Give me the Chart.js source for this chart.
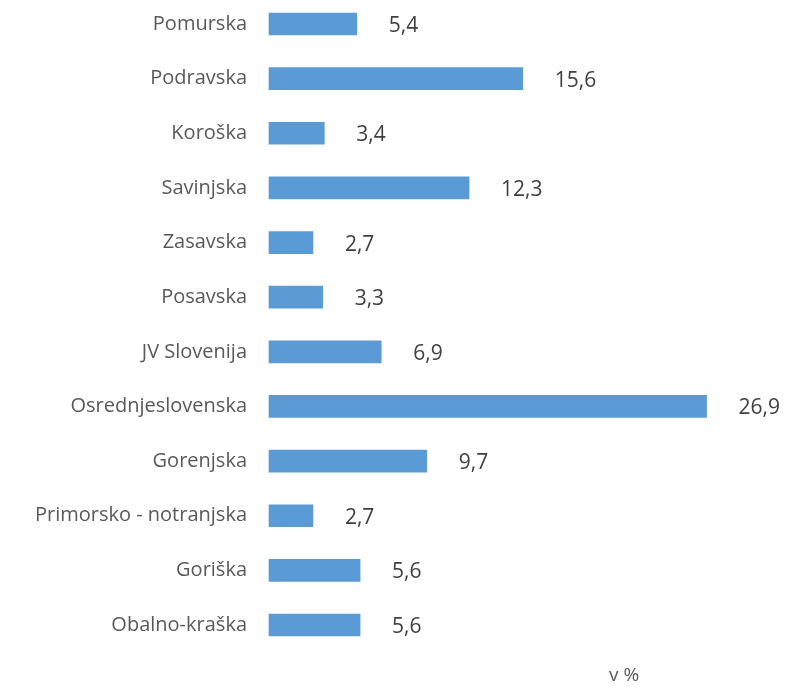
<!DOCTYPE html>
<html>
<head>
<meta charset="utf-8">
<script src="https://cdn.jsdelivr.net/npm/chart.js@4"></script>
<style>
    html, body { margin: 0; padding: 0; background: #ffffff; }
    #wrap { width: 799px; height: 687px; position: relative; }
</style>
</head>
<body>
<div id="wrap"><canvas id="regije"></canvas></div>
<script>
// regije in deleži (v %)
const regije = [
    'Pomurska', 'Podravska', 'Koroška', 'Savinjska', 'Zasavska', 'Posavska',
    'JV Slovenija', 'Osrednjeslovenska', 'Gorenjska', 'Primorsko - notranjska',
    'Goriška', 'Obalno-kraška'
];
const delezi = [5.4, 15.6, 3.4, 12.3, 2.7, 3.3, 6.9, 26.9, 9.7, 2.7, 5.6, 5.6];
const enota = 'v %';

const FONT = '"Open Sans", "Liberation Sans", sans-serif';

// vrednosti desno od stolpcev + oznaka enote
const oznakePlugin = {
    id: 'oznake',
    afterDatasetsDraw(chart) {
        const ctx = chart.ctx;
        const meta = chart.getDatasetMeta(0);
        ctx.save();
        ctx.font = '21px ' + FONT;
        ctx.fillStyle = '#404040';
        ctx.textBaseline = 'middle';
        ctx.textAlign = 'left';
        meta.data.forEach((bar, i) => {
            const txt = delezi[i].toFixed(1).replace('.', ',');
            ctx.fillText(txt, bar.x + 32, bar.y + 2);
        });
        ctx.font = '19px ' + FONT;
        ctx.fillStyle = '#595959';
        ctx.fillText(enota, 609, 676);
        ctx.restore();
    }
};

new Chart(document.getElementById('regije'), {
    type: 'bar',
    data: {
        labels: regije,
        datasets: [{
            data: delezi,
            backgroundColor: '#5b9bd5',
            borderWidth: 0,
            barThickness: 22,
            clip: false
        }]
    },
    options: {
        indexAxis: 'y',
        responsive: true,
        maintainAspectRatio: false,
        animation: false,
        layout: { padding: { top: 24, bottom: 62, left: 0, right: 42 } },
        plugins: {
            legend: { display: false },
            tooltip: { enabled: false }
        },
        scales: {
            x: {
                display: false,
                min: 0,
                max: 30
            },
            y: {
                offset: false,
                grid: { display: false, drawTicks: false },
                border: { display: false },
                ticks: {
                    color: '#595959',
                    font: { family: FONT, size: 20 },
                    padding: 22
                },
                afterFit(scale) {
                    scale.width = 269;
                    // brez dodatnega roba zaradi oznak
                    scale.paddingTop = 0;
                    scale.paddingBottom = 0;
                }
            }
        }
    },
    plugins: [oznakePlugin]
});
</script>
</body>
</html>
